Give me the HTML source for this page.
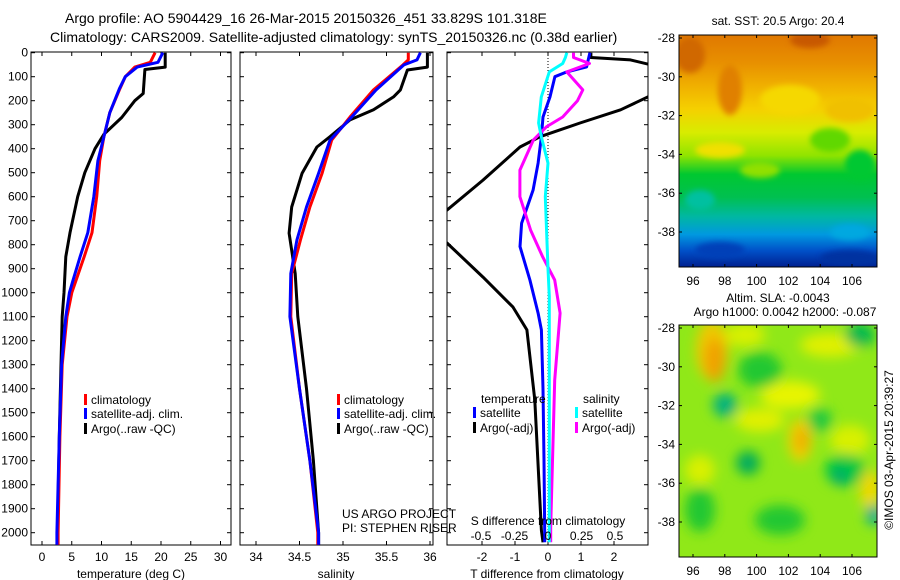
<!DOCTYPE html>
<html><head><meta charset="utf-8">
<style>
body{margin:0;background:#fff;}
svg{display:block;font-family:"Liberation Sans",sans-serif;}
</style></head>
<body>
<svg id="c" width="900" height="580" viewBox="0 0 900 580" xmlns="http://www.w3.org/2000/svg">
<defs>
<clipPath id="cp1"><rect x="31" y="52" width="200" height="493"/></clipPath>
<clipPath id="cp2"><rect x="240" y="52" width="193" height="493"/></clipPath>
<clipPath id="cp3"><rect x="447" y="52" width="201" height="493"/></clipPath>
<clipPath id="cpm1"><rect x="679" y="35" width="198" height="232"/></clipPath>
<clipPath id="cpm2"><rect x="679" y="325" width="198" height="232"/></clipPath>
<filter id="bl" x="-50%" y="-50%" width="200%" height="200%"><feGaussianBlur stdDeviation="6"/></filter>
<filter id="bl2" x="-50%" y="-50%" width="200%" height="200%"><feGaussianBlur stdDeviation="3"/></filter>
<linearGradient id="sstg" x1="0" y1="0" x2="0" y2="1">
<stop offset="0" stop-color="#e07800"/><stop offset="0.12" stop-color="#e89000"/>
<stop offset="0.22" stop-color="#f0b000"/><stop offset="0.32" stop-color="#f5d000"/>
<stop offset="0.42" stop-color="#d8ec00"/><stop offset="0.52" stop-color="#90e400"/>
<stop offset="0.6" stop-color="#00c830"/><stop offset="0.7" stop-color="#00c050"/>
<stop offset="0.78" stop-color="#00b8a0"/><stop offset="0.86" stop-color="#0098e0"/>
<stop offset="0.93" stop-color="#0050c8"/><stop offset="1" stop-color="#002090"/></linearGradient>
</defs>
<g id="titles">
<text x="65" y="23" font-size="14">Argo profile: AO 5904429_16 26-Mar-2015 20150326_451 33.829S 101.318E</text>
<text x="50" y="42" font-size="14">Climatology: CARS2009. Satellite-adjusted climatology: synTS_20150326.nc (0.38d earlier)</text>
</g>
<g id="plots"></g>
<g id="maps"></g>
</svg>
<script>
// ---------- data ----------
const depthTicks=[0,100,200,300,400,500,600,700,800,900,1000,1100,1200,1300,1400,1500,1600,1700,1800,1900,2000];
const tTicks=[0,5,10,15,20,25,30];
const sTicks=[34,34.5,35,35.5,36];
const dtTicks=[-2,-1,0,1,2];
const dsTicks=[-0.5,-0.25,0,0.25,0.5];
const dsTickLabels=["-0.5","-0.25","0","0.25","0.5"];

const tClimD=[0,40,60,100,150,250,350,450,600,750,850,950,1000,1100,1300,1600,2000,2050];
const tClimV=[19,18.2,15.6,14,13.1,11.4,10.4,9.7,9.2,8.4,7.1,5.7,5,4.2,3.4,3.0,2.7,2.7];
const tSatD=[0,40,60,100,150,250,350,450,600,750,850,950,1000,1100,1300,1600,2000,2050];
const tSatV=[20.3,19.5,16,14,13,11.4,10.4,9.4,8.7,7.7,6.4,5.2,4.6,4.0,3.3,2.9,2.5,2.5];
const tArgoD=[0,60,70,170,200,270,340,400,500,600,750,850,1000,1100,1300,1600,2000,2050];
const tArgoV=[20.7,20.7,17.3,17,15.6,13.4,10.4,8.9,7.2,6.0,4.7,4.0,3.7,3.4,3.2,2.9,2.6,2.6];

const sClimD=[0,30,51,155,268,364,502,643,781,920,1100,1400,1700,2000,2050];
const sClimV=[35.75,35.75,35.69,35.35,35.08,34.87,34.76,34.62,34.51,34.41,34.40,34.5,34.62,34.71,34.71];
const sSatD=[0,30,51,155,268,364,502,643,781,920,1100,1400,1700,2000,2050];
const sSatV=[35.89,35.85,35.7,35.38,35.1,34.85,34.72,34.58,34.47,34.4,34.39,34.5,34.62,34.72,34.72];
const sArgoD=[0,60,72,155,184,238,280,350,393,502,643,752,920,1100,1400,1700,2000,2050];
const sArgoV=[35.97,35.97,35.74,35.66,35.58,35.35,35.08,34.85,34.7,34.53,34.41,34.38,34.45,34.48,34.58,34.66,34.72,34.72];

const dTSatD=[0,59,80,100,184,268,350,460,572,711,808,947,1085,1155,1400,1700,2000,2040];
const dTSatV=[1.27,1.17,0.57,0.21,0.06,-0.15,-0.2,-0.3,-0.45,-0.8,-0.85,-0.55,-0.3,-0.2,-0.15,-0.12,-0.1,-0.1];
const dTArgoD=[0,20,30,50,100,184,238,293,350,393,531,656,720,793,935,1060,1155,1447,1990,2040];
const dTArgoV=[1.3,1.3,2.5,3.1,4,3.03,2.2,0.97,-0.24,-0.85,-1.97,-3.06,-3.8,-3.06,-1.97,-1.06,-0.64,-0.4,-0.2,-0.15];
const dSSatD=[0,20,45,80,184,293,350,460,600,900,1015,1500,2000,2040];
const dSSatV=[0.14,0.13,0.11,0.01,-0.05,-0.07,-0.05,0,-0.02,0,0.01,0.01,0.01,0.01];
const dSArgoD=[0,20,45,80,155,200,268,308,364,489,600,739,850,947,1085,1365,1976,2040];
const dSArgoV=[0.19,0.19,0.31,0.14,0.26,0.22,0.11,-0.01,-0.11,-0.21,-0.21,-0.13,-0.04,0.05,0.09,0.05,0.02,0.02];

const latTicks=[-28,-30,-32,-34,-36,-38];
const lonTicks=[96,98,100,102,104,106];

// ---------- scales ----------
const TOP=52, BOT=545;
const yD=d=>52.7+d*0.24;
const xT=v=>42+5.95*v;
const xS=v=>256+(v-34)*87;
const xDT=v=>548+33*v;
const xDS=v=>548+134*v;
const NS="http://www.w3.org/2000/svg";
const plots=document.getElementById('plots');
const maps=document.getElementById('maps');
function mk(tag,attrs,parent){const e=document.createElementNS(NS,tag);for(const k in attrs)e.setAttribute(k,attrs[k]);(parent||plots).appendChild(e);return e;}
function txt(x,y,s,size,anchor,parent){const t=mk('text',{x:x,y:y,'font-size':size,'text-anchor':anchor||'start'},parent);t.textContent=s;return t;}

function line(ds,vs,xf,color,clip,name){
  const pts=ds.map((d,i)=>xf(vs[i]).toFixed(1)+','+yD(d).toFixed(1)).join(' ');
  const p=mk('polyline',{points:pts,fill:'none',stroke:color,'stroke-width':3,'stroke-linejoin':'round','clip-path':'url(#'+clip+')'});
  
  
}

function panel(x0,x1,name){
  const r=mk('rect',{x:x0,y:TOP,width:x1-x0,height:BOT-TOP,fill:'#fff',stroke:'#000','stroke-width':1});
  
  
  depthTicks.forEach(d=>{
    mk('line',{x1:x0,x2:x0+4,y1:yD(d),y2:yD(d),stroke:'#000'});
    mk('line',{x1:x1-4,x2:x1,y1:yD(d),y2:yD(d),stroke:'#000'});
  });
}
function xticks(ticks,labels,xf,size){
  ticks.forEach((v,i)=>{
    const x=xf(v);
    mk('line',{x1:x,x2:x,y1:TOP,y2:TOP+4,stroke:'#000'});
    mk('line',{x1:x,x2:x,y1:BOT-4,y2:BOT,stroke:'#000'});
    const t=txt(x,561,labels[i],size||12,'middle');
    
    
  });
}

// panel 1
panel(31,231,'temperature-panel');
depthTicks.forEach(d=>{
  const t=txt(28,yD(d)+4,String(d),12,'end');
  
  
});
xticks(tTicks,tTicks.map(String),xT);
let t1=txt(131,578,'temperature (deg C)',12,'middle');


line(tArgoD,tArgoV,xT,'#000','cp1','temp-argo-line');
line(tClimD,tClimV,xT,'#f00','cp1','temp-climatology-line');
line(tSatD,tSatV,xT,'#00f','cp1','temp-satellite-line');

// panel 2
panel(240,433,'salinity-panel');
xticks(sTicks,sTicks.map(String),xS);
let t2=txt(336,578,'salinity',12,'middle');


line(sArgoD,sArgoV,xS,'#000','cp2','sal-argo-line');
line(sClimD,sClimV,xS,'#f00','cp2','sal-climatology-line');
line(sSatD,sSatV,xS,'#00f','cp2','sal-satellite-line');

// panel 3
panel(447,648,'difference-panel');
xticks(dtTicks,dtTicks.map(String),xDT);
let t3=txt(547,578,'T difference from climatology',12,'middle');


mk('line',{x1:548,x2:548,y1:TOP,y2:BOT,stroke:'#000','stroke-dasharray':'1,2'});
line(dTArgoD,dTArgoV,xDT,'#000','cp3','tdiff-argo-line');
line(dTSatD,dTSatV,xDT,'#00f','cp3','tdiff-satellite-line');
line(dSArgoD,dSArgoV,xDS,'#f0f','cp3','sdiff-argo-line');
line(dSSatD,dSSatV,xDS,'#0ff','cp3','sdiff-satellite-line');
dsTicks.forEach((v,i)=>{
  const t=txt(xDS(v),540,dsTickLabels[i],12,'middle');
  
  
});
let t4=txt(548,525,'S difference from climatology',12,'middle');



// legends
function legend(x,y,color,label,name){
  const g=mk('g',{});
  
  
  mk('rect',{x:x,y:y-10,width:3,height:11,fill:color},g);
  txt(x+7,y,label,12,'start',g);
}
legend(84,404,'#f00','climatology','legend-t-climatology');
legend(84,418,'#00f','satellite-adj. clim.','legend-t-satellite');
legend(84,433,'#000','Argo(..raw -QC)','legend-t-argo');
legend(337,404,'#f00','climatology','legend-s-climatology');
legend(337,418,'#00f','satellite-adj. clim.','legend-s-satellite');
legend(337,433,'#000','Argo(..raw -QC)','legend-s-argo');
let lt=txt(481,403,'temperature',12);


let ls=txt(583,403,'salinity',12);


legend(473,417,'#00f','satellite','legend-tdiff-satellite');
legend(473,432,'#000','Argo(-adj)','legend-tdiff-argo');
legend(575,417,'#0ff','satellite','legend-sdiff-satellite');
legend(575,432,'#f0f','Argo(-adj)','legend-sdiff-argo');
let pr1=txt(342,518,'US ARGO PROJECT',12);


let pr2=txt(342,532,'PI: STEPHEN RISER',12);



// ---------- maps ----------
const latY1=l=>38+(-28-l)*19.4;
const lonX=l=>693+(l-96)*15.9;
function mapAxes(y0,yOff,name){
  const r=mk('rect',{x:679,y:y0,width:198,height:232,fill:'none',stroke:'#000'},maps);
  
  
  latTicks.forEach(l=>{
    const y=latY1(l)+yOff;
    mk('line',{x1:679,x2:682,y1:y,y2:y,stroke:'#000'},maps);
    mk('line',{x1:874,x2:877,y1:y,y2:y,stroke:'#000'},maps);
    const t=txt(675,y+4,String(l),12,'end',maps);
    
    
  });
  lonTicks.forEach(l=>{
    const x=lonX(l);
    mk('line',{x1:x,x2:x,y1:y0,y2:y0+3,stroke:'#000'},maps);
    mk('line',{x1:x,x2:x,y1:y0+229,y2:y0+232,stroke:'#000'},maps);
    const t=txt(x,y0+250,String(l),12,'middle',maps);
    
    
  });
}
// SST map
const g1=mk('g',{'clip-path':'url(#cpm1)'},maps);


mk('rect',{x:679,y:35,width:198,height:232,fill:'url(#sstg)'},g1);
const gb=mk('g',{filter:'url(#bl2)'},g1);
[[690,55,15,18,'#d06800'],[730,90,12,25,'#e08000'],[810,40,20,8,'#c85800'],
 [790,100,30,15,'#f5d800'],[850,110,25,12,'#f0c000'],[720,150,25,8,'#f0e000'],
 [830,140,20,12,'#60d800'],[860,165,15,15,'#00c830'],[760,170,20,8,'#90e000'],
 [700,200,15,10,'#00c0a0'],[850,232,20,8,'#00a8e0'],[720,250,25,8,'#0040b8'],[850,258,30,8,'#0030a0']
].forEach(b=>mk('ellipse',{cx:b[0],cy:b[1],rx:b[2],ry:b[3],fill:b[4]},gb));
mapAxes(35,0,'sst-map-frame');
let mt1=txt(778,25,'sat. SST: 20.5 Argo: 20.4',12,'middle',maps);



// SLA map
const g2=mk('g',{'clip-path':'url(#cpm2)'},maps);


mk('rect',{x:679,y:325,width:198,height:232,fill:'#90e818'},g2);
const gs=mk('g',{filter:'url(#bl)'},g2);
[[712,350,16,30,'#f0c800'],[715,360,10,22,'#f0a000'],[745,335,20,12,'#d8f000'],[790,395,30,14,'#e8f400'],
 [830,345,30,12,'#e0f000'],[760,420,25,12,'#e0f000'],[800,440,12,22,'#f0d000'],[802,440,6,12,'#f0a800'],[870,490,10,20,'#f0d800'],
 [700,470,15,15,'#d8f000'],[850,440,20,15,'#d8f000'],
 [760,370,22,18,'#20c830'],[725,405,12,12,'#00b080'],[748,463,12,12,'#00b040'],[747,463,7,7,'#00a870'],
 [860,335,15,12,'#00b850'],[845,470,20,16,'#00c840'],[840,477,8,8,'#00a870'],[874,515,8,10,'#00a8a0'],
 [700,510,15,22,'#20c830'],[780,520,25,15,'#20c830'],[820,420,12,12,'#20c840']
].forEach(b=>mk('ellipse',{cx:b[0],cy:b[1],rx:b[2],ry:b[3],fill:b[4]},gs));
mapAxes(325,290,'sla-map-frame');
let mt2=txt(778,302,'Altim. SLA: -0.0043',12,'middle',maps);


let mt3=txt(785,316,'Argo h1000: 0.0042 h2000: -0.087',12,'middle',maps);


let cr=txt(0,0,'©IMOS 03-Apr-2015 20:39:27',12,'middle',maps);
cr.setAttribute('transform','translate(893,450) rotate(-90)');


</script>
</body></html>
